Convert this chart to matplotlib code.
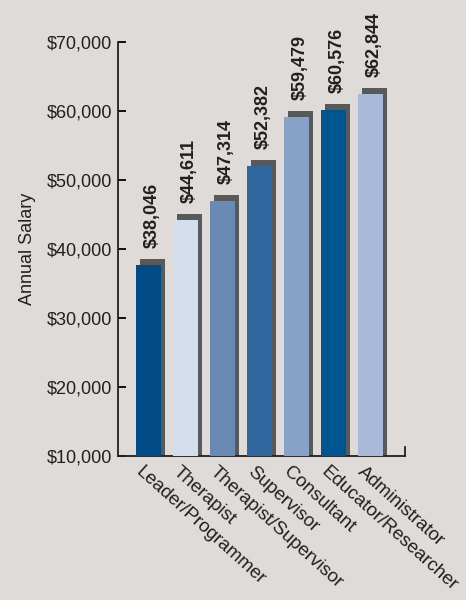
import matplotlib
matplotlib.use("Agg")
import matplotlib.pyplot as plt
from matplotlib import font_manager

# noms des postes et salaires
postes = ["Leader/Programmer", "Therapist", "Therapist/Supervisor", "Supervisor",
          "Consultant", "Educator/Researcher", "Administrator"]
salaires = [38046, 44611, 47314, 52382, 59479, 60576, 62844]
couleurs = ["#004a85", "#d3ddeb", "#6a89b5", "#31679e", "#87a1c7", "#005591", "#a9b9d8"]
yticks = [10000, 20000, 30000, 40000, 50000, 60000, 70000]

noms = [f.name for f in font_manager.fontManager.ttflist]
police = "Liberation Sans Narrow" if "Liberation Sans Narrow" in noms else "Liberation Sans"
plt.rcParams['font.family'] = [police, 'DejaVu Sans']

fond = "#dfdbd8"
texte = "#231f20"
fig = plt.figure(figsize=(4.66, 6.0), dpi=100, facecolor=fond)
ax = fig.add_axes([0.253, 0.24, 0.616, 0.69])
ax.set_facecolor("none")

x = list(range(len(postes)))
largeur = 0.68
decal = 0.11
for i, (s, c) in enumerate(zip(salaires, couleurs)):
    # ombre grise derrière la barre
    ax.bar(i + decal, s + 450 - 10000, bottom=10000, width=largeur, color="#58595b", zorder=2)
    ax.bar(i, s - 400 - 10000, bottom=10000, width=largeur, color=c, zorder=3)
    ax.annotate("${:,}".format(s), (i + decal, s + 450), xytext=(0, 8),
                textcoords="offset points", rotation=90, ha="center", va="bottom",
                fontsize=13, fontweight="bold", color=texte)

ax.set_xlim(-0.824, 6.93)
ax.set_ylim(10000, 70000)
ax.set_yticks(yticks)
ax.set_yticklabels(["${:,}".format(v) for v in yticks], fontsize=13, color=texte)
ax.tick_params(axis="y", direction="in", length=6, width=1.3, pad=4)
ax.set_xticks(x)
ax.set_xticklabels([])
ax.tick_params(axis="x", length=0)
for i, p in enumerate(postes):
    ax.text(i - 0.12, 9000, p, rotation=-42, rotation_mode="anchor", ha="left", va="top",
            fontsize=13.5, color=texte)

ax.spines["top"].set_visible(False)
ax.spines["right"].set_bounds(10000, 11300)
for sp in ["left", "bottom", "right"]:
    ax.spines[sp].set_linewidth(1.3)
    ax.spines[sp].set_color(texte)

ax.set_ylabel("Annual Salary", fontsize=13, color=texte, labelpad=8)

plt.savefig("out.png", dpi=100, facecolor=fond)
